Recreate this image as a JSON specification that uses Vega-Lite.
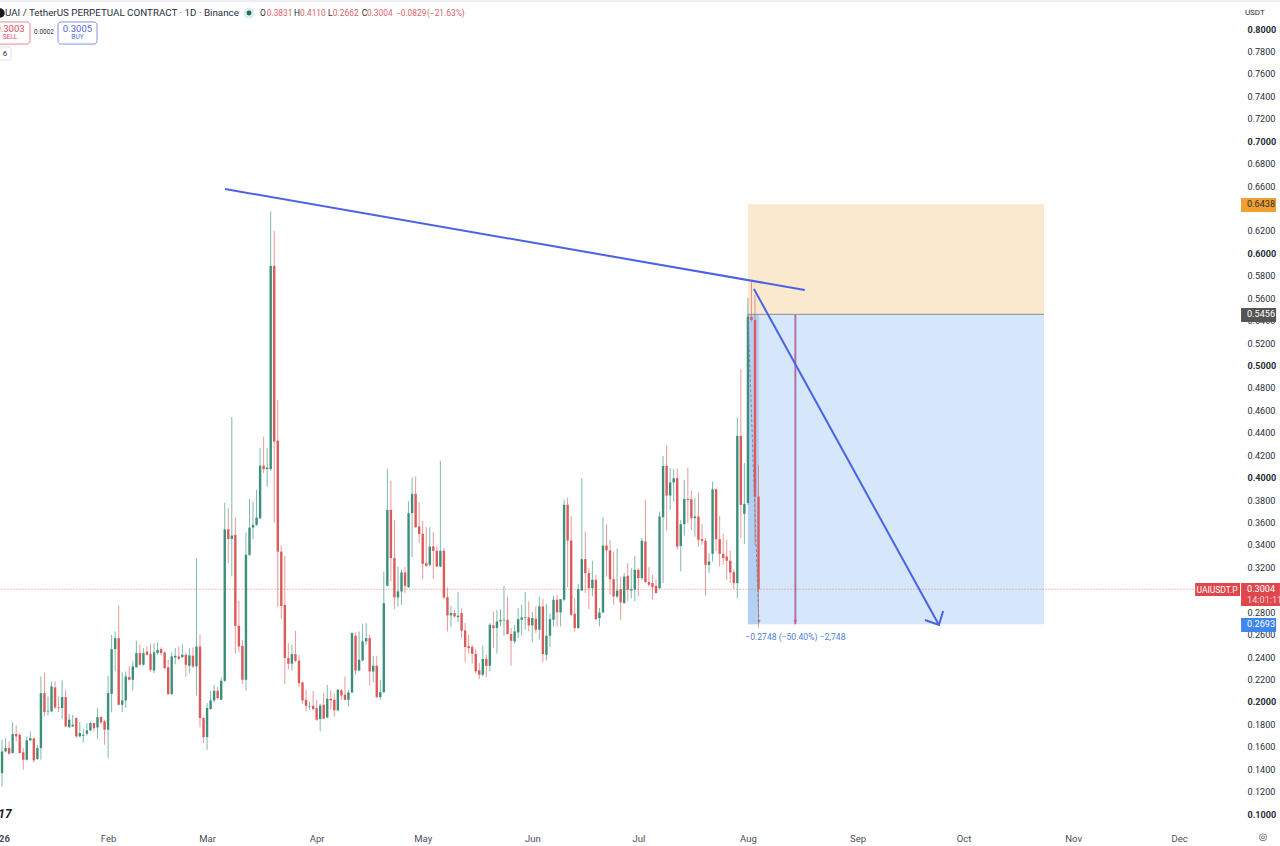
{"$schema":"https://vega.github.io/schema/vega-lite/v6.json","width":1241.5,"height":826,"autosize":{"type":"none"},"padding":{"left":-1.5,"top":0,"right":40,"bottom":20},"background":"#ffffff","view":{"stroke":null},
"config":{"font":"Roboto","axis":{"title":null,"grid":false,"domain":false,"ticks":false}},
"datasets":{"candles":[
{"t":"2026-01-01","h":0.1425,"o":0.1419,"c":0.1371,"l":0.1365},
{"t":"2026-01-02","h":0.1662,"o":0.1365,"c":0.1558,"l":0.1247},
{"t":"2026-01-03","h":0.1677,"o":0.1558,"c":0.1588,"l":0.1549},
{"t":"2026-01-04","h":0.1648,"o":0.1588,"c":0.1538,"l":0.1529},
{"t":"2026-01-05","h":0.1817,"o":0.1544,"c":0.1713,"l":0.1538},
{"t":"2026-01-06","h":0.179,"o":0.1713,"c":0.1692,"l":0.1648},
{"t":"2026-01-07","h":0.1722,"o":0.1707,"c":0.1544,"l":0.1538},
{"t":"2026-01-08","h":0.1588,"o":0.155,"c":0.1484,"l":0.1395},
{"t":"2026-01-09","h":0.1692,"o":0.1484,"c":0.1657,"l":0.1478},
{"t":"2026-01-10","h":0.1737,"o":0.1657,"c":0.1677,"l":0.1648},
{"t":"2026-01-11","h":0.1683,"o":0.1674,"c":0.1478,"l":0.146},
{"t":"2026-01-12","h":0.1618,"o":0.149,"c":0.1588,"l":0.1484},
{"t":"2026-01-13","h":0.2227,"o":0.1588,"c":0.2078,"l":0.1484},
{"t":"2026-01-14","h":0.2262,"o":0.2078,"c":0.1909,"l":0.187},
{"t":"2026-01-15","h":0.2048,"o":0.1915,"c":0.1921,"l":0.1879},
{"t":"2026-01-16","h":0.2182,"o":0.1915,"c":0.2138,"l":0.1909},
{"t":"2026-01-17","h":0.2182,"o":0.2129,"c":0.1951,"l":0.1936},
{"t":"2026-01-18","h":0.2048,"o":0.1951,"c":0.1945,"l":0.1909},
{"t":"2026-01-19","h":0.2191,"o":0.1945,"c":0.2043,"l":0.1847},
{"t":"2026-01-20","h":0.2108,"o":0.2043,"c":0.1781,"l":0.1775},
{"t":"2026-01-21","h":0.1891,"o":0.1775,"c":0.1841,"l":0.1766},
{"t":"2026-01-22","h":0.1885,"o":0.1781,"c":0.1796,"l":0.1775},
{"t":"2026-01-23","h":0.1861,"o":0.1855,"c":0.1692,"l":0.1677},
{"t":"2026-01-24","h":0.182,"o":0.1692,"c":0.1722,"l":0.1686},
{"t":"2026-01-25","h":0.1757,"o":0.1698,"c":0.1707,"l":0.1639},
{"t":"2026-01-26","h":0.1811,"o":0.1716,"c":0.1746,"l":0.1698},
{"t":"2026-01-27","h":0.1826,"o":0.1746,"c":0.1811,"l":0.1737},
{"t":"2026-01-28","h":0.1817,"o":0.1811,"c":0.1766,"l":0.1737},
{"t":"2026-01-29","h":0.1945,"o":0.1772,"c":0.1864,"l":0.1668},
{"t":"2026-01-30","h":0.1876,"o":0.1864,"c":0.1817,"l":0.1802},
{"t":"2026-01-31","h":0.1841,"o":0.1826,"c":0.1752,"l":0.1618},
{"t":"2026-02-01","h":0.2233,"o":0.1752,"c":0.2078,"l":0.1499},
{"t":"2026-02-02","h":0.2598,"o":0.2072,"c":0.247,"l":0.1906},
{"t":"2026-02-03","h":0.2628,"o":0.247,"c":0.2568,"l":0.2271},
{"t":"2026-02-04","h":0.2859,"o":0.2568,"c":0.1974,"l":0.1968},
{"t":"2026-02-05","h":0.2262,"o":0.1974,"c":0.2013,"l":0.1909},
{"t":"2026-02-06","h":0.2271,"o":0.2013,"c":0.2227,"l":0.1945},
{"t":"2026-02-07","h":0.2316,"o":0.2221,"c":0.2197,"l":0.2191},
{"t":"2026-02-08","h":0.236,"o":0.2197,"c":0.2316,"l":0.2102},
{"t":"2026-02-09","h":0.2547,"o":0.231,"c":0.2435,"l":0.2301},
{"t":"2026-02-10","h":0.2515,"o":0.2435,"c":0.2331,"l":0.2325},
{"t":"2026-02-11","h":0.2479,"o":0.2331,"c":0.2435,"l":0.2322},
{"t":"2026-02-12","h":0.2494,"o":0.2449,"c":0.242,"l":0.2414},
{"t":"2026-02-13","h":0.2518,"o":0.2429,"c":0.2286,"l":0.2271},
{"t":"2026-02-14","h":0.2524,"o":0.228,"c":0.2441,"l":0.2256},
{"t":"2026-02-15","h":0.2533,"o":0.2435,"c":0.2464,"l":0.242},
{"t":"2026-02-16","h":0.2485,"o":0.247,"c":0.2435,"l":0.2414},
{"t":"2026-02-17","h":0.2449,"o":0.2441,"c":0.2301,"l":0.2292},
{"t":"2026-02-18","h":0.2375,"o":0.2307,"c":0.2069,"l":0.2063},
{"t":"2026-02-19","h":0.2441,"o":0.2069,"c":0.2405,"l":0.2063},
{"t":"2026-02-20","h":0.2479,"o":0.2396,"c":0.2411,"l":0.2337},
{"t":"2026-02-21","h":0.2494,"o":0.2405,"c":0.2384,"l":0.2375},
{"t":"2026-02-22","h":0.2515,"o":0.2399,"c":0.242,"l":0.239},
{"t":"2026-02-23","h":0.2441,"o":0.242,"c":0.2331,"l":0.2221},
{"t":"2026-02-24","h":0.2479,"o":0.2322,"c":0.2414,"l":0.2256},
{"t":"2026-02-25","h":0.2485,"o":0.2411,"c":0.2316,"l":0.2301},
{"t":"2026-02-26","h":0.3281,"o":0.2316,"c":0.2494,"l":0.2057},
{"t":"2026-02-27","h":0.2598,"o":0.2494,"c":0.1855,"l":0.1772},
{"t":"2026-02-28","h":0.1864,"o":0.1855,"c":0.1686,"l":0.1633},
{"t":"2026-03-01","h":0.1989,"o":0.1686,"c":0.1945,"l":0.1573},
{"t":"2026-03-02","h":0.2099,"o":0.1936,"c":0.2013,"l":0.193},
{"t":"2026-03-03","h":0.2152,"o":0.2013,"c":0.2099,"l":0.1995},
{"t":"2026-03-04","h":0.2132,"o":0.2099,"c":0.2034,"l":0.2019},
{"t":"2026-03-05","h":0.2218,"o":0.2019,"c":0.2188,"l":0.2013},
{"t":"2026-03-06","h":0.3777,"o":0.2188,"c":0.3539,"l":0.2176},
{"t":"2026-03-07","h":0.3727,"o":0.3539,"c":0.3453,"l":0.3236},
{"t":"2026-03-08","h":0.4541,"o":0.3453,"c":0.3483,"l":0.3118},
{"t":"2026-03-09","h":0.3643,"o":0.3489,"c":0.2678,"l":0.2429},
{"t":"2026-03-10","h":0.2904,"o":0.2678,"c":0.2494,"l":0.2441},
{"t":"2026-03-11","h":0.2553,"o":0.25,"c":0.2197,"l":0.2161},
{"t":"2026-03-12","h":0.351,"o":0.2197,"c":0.3311,"l":0.2102},
{"t":"2026-03-13","h":0.381,"o":0.3311,"c":0.3554,"l":0.3302},
{"t":"2026-03-14","h":0.3786,"o":0.3554,"c":0.3578,"l":0.345},
{"t":"2026-03-15","h":0.389,"o":0.3578,"c":0.3643,"l":0.357},
{"t":"2026-03-16","h":0.4267,"o":0.3637,"c":0.4107,"l":0.3629},
{"t":"2026-03-17","h":0.4365,"o":0.4107,"c":0.4075,"l":0.4039},
{"t":"2026-03-18","h":0.4265,"o":0.4075,"c":0.4089,"l":0.3917},
{"t":"2026-03-19","h":0.6373,"o":0.4075,"c":0.5888,"l":0.406},
{"t":"2026-03-20","h":0.62,"o":0.5888,"c":0.4321,"l":0.3596},
{"t":"2026-03-21","h":0.4693,"o":0.433,"c":0.334,"l":0.2846},
{"t":"2026-03-22","h":0.3393,"o":0.334,"c":0.2855,"l":0.2739},
{"t":"2026-03-23","h":0.3301,"o":0.2864,"c":0.2392,"l":0.216},
{"t":"2026-03-24","h":0.2524,"o":0.239,"c":0.234,"l":0.2286},
{"t":"2026-03-25","h":0.2509,"o":0.234,"c":0.2426,"l":0.228},
{"t":"2026-03-26","h":0.2634,"o":0.2426,"c":0.2366,"l":0.2351},
{"t":"2026-03-27","h":0.242,"o":0.2369,"c":0.2167,"l":0.2132},
{"t":"2026-03-28","h":0.2182,"o":0.2173,"c":0.2013,"l":0.1983},
{"t":"2026-03-29","h":0.2108,"o":0.2019,"c":0.1965,"l":0.1915},
{"t":"2026-03-30","h":0.2004,"o":0.1959,"c":0.1965,"l":0.193},
{"t":"2026-03-31","h":0.2099,"o":0.1965,"c":0.1936,"l":0.1924},
{"t":"2026-04-01","h":0.2019,"o":0.1945,"c":0.1841,"l":0.1832},
{"t":"2026-04-02","h":0.1983,"o":0.1847,"c":0.1968,"l":0.1737},
{"t":"2026-04-03","h":0.2078,"o":0.1974,"c":0.1852,"l":0.1847},
{"t":"2026-04-04","h":0.2152,"o":0.1861,"c":0.2028,"l":0.1855},
{"t":"2026-04-05","h":0.2102,"o":0.2028,"c":0.2013,"l":0.193},
{"t":"2026-04-06","h":0.2078,"o":0.2019,"c":0.1924,"l":0.187},
{"t":"2026-04-07","h":0.2114,"o":0.1924,"c":0.2108,"l":0.1915},
{"t":"2026-04-08","h":0.2114,"o":0.2102,"c":0.2057,"l":0.2019},
{"t":"2026-04-09","h":0.2227,"o":0.2063,"c":0.2019,"l":0.2013},
{"t":"2026-04-10","h":0.2108,"o":0.2019,"c":0.2084,"l":0.1959},
{"t":"2026-04-11","h":0.2619,"o":0.2084,"c":0.2613,"l":0.2078},
{"t":"2026-04-12","h":0.2619,"o":0.2589,"c":0.228,"l":0.2242},
{"t":"2026-04-13","h":0.2628,"o":0.228,"c":0.2375,"l":0.2274},
{"t":"2026-04-14","h":0.2696,"o":0.2369,"c":0.2539,"l":0.236},
{"t":"2026-04-15","h":0.2702,"o":0.2539,"c":0.2568,"l":0.2509},
{"t":"2026-04-16","h":0.2598,"o":0.2568,"c":0.2271,"l":0.2144},
{"t":"2026-04-17","h":0.2411,"o":0.2271,"c":0.2322,"l":0.2173},
{"t":"2026-04-18","h":0.2411,"o":0.2322,"c":0.2043,"l":0.2034},
{"t":"2026-04-19","h":0.2197,"o":0.2043,"c":0.2087,"l":0.2019},
{"t":"2026-04-20","h":0.3162,"o":0.2087,"c":0.288,"l":0.2078},
{"t":"2026-04-21","h":0.4078,"o":0.3035,"c":0.3712,"l":0.303},
{"t":"2026-04-22","h":0.3974,"o":0.3712,"c":0.3282,"l":0.3074},
{"t":"2026-04-23","h":0.3623,"o":0.3282,"c":0.2931,"l":0.2827},
{"t":"2026-04-24","h":0.3207,"o":0.2931,"c":0.2985,"l":0.2851},
{"t":"2026-04-25","h":0.3178,"o":0.2985,"c":0.3154,"l":0.2866},
{"t":"2026-04-26","h":0.3202,"o":0.3154,"c":0.3035,"l":0.297},
{"t":"2026-04-27","h":0.3787,"o":0.3023,"c":0.3683,"l":0.3015},
{"t":"2026-04-28","h":0.4003,"o":0.3683,"c":0.3855,"l":0.3291},
{"t":"2026-04-29","h":0.4009,"o":0.3855,"c":0.3558,"l":0.3549},
{"t":"2026-04-30","h":0.3781,"o":0.3564,"c":0.3496,"l":0.3415},
{"t":"2026-05-01","h":0.3614,"o":0.3499,"c":0.3231,"l":0.3095},
{"t":"2026-05-02","h":0.3558,"o":0.3237,"c":0.3213,"l":0.3202},
{"t":"2026-05-03","h":0.3558,"o":0.3222,"c":0.3386,"l":0.3207},
{"t":"2026-05-04","h":0.3513,"o":0.3386,"c":0.3347,"l":0.3098},
{"t":"2026-05-05","h":0.3386,"o":0.3347,"c":0.3207,"l":0.3202},
{"t":"2026-05-06","h":0.4149,"o":0.3207,"c":0.3347,"l":0.3199},
{"t":"2026-05-07","h":0.3371,"o":0.3347,"c":0.2931,"l":0.2916},
{"t":"2026-05-08","h":0.302,"o":0.2934,"c":0.2771,"l":0.2628},
{"t":"2026-05-09","h":0.2857,"o":0.2771,"c":0.2792,"l":0.2667},
{"t":"2026-05-10","h":0.2821,"o":0.2792,"c":0.2762,"l":0.2753},
{"t":"2026-05-11","h":0.2979,"o":0.2756,"c":0.2768,"l":0.2709},
{"t":"2026-05-12","h":0.2836,"o":0.2792,"c":0.2634,"l":0.2569},
{"t":"2026-05-13","h":0.2703,"o":0.2637,"c":0.2489,"l":0.2355},
{"t":"2026-05-14","h":0.2599,"o":0.2495,"c":0.248,"l":0.2429},
{"t":"2026-05-15","h":0.251,"o":0.2489,"c":0.2429,"l":0.234},
{"t":"2026-05-16","h":0.2471,"o":0.2429,"c":0.2272,"l":0.2257},
{"t":"2026-05-17","h":0.2346,"o":0.2281,"c":0.2242,"l":0.2204},
{"t":"2026-05-18","h":0.2501,"o":0.2242,"c":0.2382,"l":0.2227},
{"t":"2026-05-19","h":0.242,"o":0.2382,"c":0.2322,"l":0.2221},
{"t":"2026-05-20","h":0.2703,"o":0.2322,"c":0.2688,"l":0.2272},
{"t":"2026-05-21","h":0.2807,"o":0.2682,"c":0.2658,"l":0.248},
{"t":"2026-05-22","h":0.2821,"o":0.2658,"c":0.2717,"l":0.2429},
{"t":"2026-05-23","h":0.2827,"o":0.2717,"c":0.2732,"l":0.2673},
{"t":"2026-05-24","h":0.3035,"o":0.2726,"c":0.2732,"l":0.259},
{"t":"2026-05-25","h":0.294,"o":0.2732,"c":0.2605,"l":0.2599},
{"t":"2026-05-26","h":0.2658,"o":0.2605,"c":0.2545,"l":0.2322},
{"t":"2026-05-27","h":0.2688,"o":0.2539,"c":0.2628,"l":0.2518},
{"t":"2026-05-28","h":0.2836,"o":0.2619,"c":0.2738,"l":0.2569},
{"t":"2026-05-29","h":0.2866,"o":0.2732,"c":0.2753,"l":0.259},
{"t":"2026-05-30","h":0.2979,"o":0.2747,"c":0.2753,"l":0.2643},
{"t":"2026-05-31","h":0.2896,"o":0.2753,"c":0.2682,"l":0.2628},
{"t":"2026-06-01","h":0.2801,"o":0.2682,"c":0.2747,"l":0.253},
{"t":"2026-06-02","h":0.2851,"o":0.2741,"c":0.2643,"l":0.2614},
{"t":"2026-06-03","h":0.294,"o":0.2643,"c":0.2851,"l":0.2554},
{"t":"2026-06-04","h":0.2916,"o":0.2851,"c":0.2426,"l":0.2355},
{"t":"2026-06-05","h":0.2875,"o":0.242,"c":0.259,"l":0.237},
{"t":"2026-06-06","h":0.2786,"o":0.259,"c":0.2738,"l":0.2489},
{"t":"2026-06-07","h":0.2946,"o":0.2732,"c":0.2911,"l":0.2673},
{"t":"2026-06-08","h":0.2955,"o":0.2911,"c":0.2798,"l":0.2673},
{"t":"2026-06-09","h":0.2916,"o":0.2798,"c":0.2916,"l":0.2673},
{"t":"2026-06-10","h":0.3802,"o":0.2911,"c":0.3757,"l":0.2896},
{"t":"2026-06-11","h":0.3822,"o":0.3757,"c":0.3439,"l":0.3023},
{"t":"2026-06-12","h":0.3659,"o":0.3439,"c":0.2777,"l":0.2762},
{"t":"2026-06-13","h":0.2925,"o":0.2786,"c":0.2658,"l":0.2628},
{"t":"2026-06-14","h":0.305,"o":0.2658,"c":0.3005,"l":0.2652},
{"t":"2026-06-15","h":0.3994,"o":0.2993,"c":0.3273,"l":0.2988},
{"t":"2026-06-16","h":0.3519,"o":0.3273,"c":0.3148,"l":0.297},
{"t":"2026-06-17","h":0.3192,"o":0.3148,"c":0.3014,"l":0.2827},
{"t":"2026-06-18","h":0.3258,"o":0.3014,"c":0.3089,"l":0.294},
{"t":"2026-06-19","h":0.3133,"o":0.3089,"c":0.2738,"l":0.2726},
{"t":"2026-06-20","h":0.2836,"o":0.2747,"c":0.2797,"l":0.2673},
{"t":"2026-06-21","h":0.3647,"o":0.2797,"c":0.3394,"l":0.2792},
{"t":"2026-06-22","h":0.3584,"o":0.3394,"c":0.335,"l":0.3118},
{"t":"2026-06-23","h":0.3445,"o":0.335,"c":0.3094,"l":0.2955},
{"t":"2026-06-24","h":0.3341,"o":0.3094,"c":0.294,"l":0.2866},
{"t":"2026-06-25","h":0.3365,"o":0.294,"c":0.2993,"l":0.2925},
{"t":"2026-06-26","h":0.3118,"o":0.3005,"c":0.2887,"l":0.2732},
{"t":"2026-06-27","h":0.3148,"o":0.2881,"c":0.3118,"l":0.2875},
{"t":"2026-06-28","h":0.3237,"o":0.3124,"c":0.3,"l":0.2896},
{"t":"2026-06-29","h":0.3192,"o":0.2993,"c":0.3005,"l":0.2925},
{"t":"2026-06-30","h":0.3302,"o":0.3,"c":0.3178,"l":0.2896},
{"t":"2026-07-01","h":0.3192,"o":0.3178,"c":0.3103,"l":0.294},
{"t":"2026-07-02","h":0.346,"o":0.3103,"c":0.3436,"l":0.3089},
{"t":"2026-07-03","h":0.3801,"o":0.343,"c":0.3068,"l":0.3059},
{"t":"2026-07-04","h":0.3201,"o":0.3068,"c":0.3044,"l":0.3029},
{"t":"2026-07-05","h":0.3133,"o":0.3059,"c":0.3023,"l":0.291},
{"t":"2026-07-06","h":0.3094,"o":0.3035,"c":0.297,"l":0.297},
{"t":"2026-07-07","h":0.3697,"o":0.3014,"c":0.3653,"l":0.3005},
{"t":"2026-07-08","h":0.4193,"o":0.3647,"c":0.4104,"l":0.3059},
{"t":"2026-07-09","h":0.4291,"o":0.4104,"c":0.384,"l":0.3525},
{"t":"2026-07-10","h":0.4083,"o":0.384,"c":0.3956,"l":0.3712},
{"t":"2026-07-11","h":0.4075,"o":0.3956,"c":0.3994,"l":0.3786},
{"t":"2026-07-12","h":0.4083,"o":0.3994,"c":0.3385,"l":0.3356},
{"t":"2026-07-13","h":0.3623,"o":0.3391,"c":0.3584,"l":0.3163},
{"t":"2026-07-14","h":0.398,"o":0.3584,"c":0.381,"l":0.3481},
{"t":"2026-07-15","h":0.4089,"o":0.381,"c":0.3801,"l":0.3593},
{"t":"2026-07-16","h":0.3884,"o":0.3807,"c":0.3638,"l":0.3534},
{"t":"2026-07-17","h":0.3816,"o":0.3638,"c":0.3653,"l":0.3475},
{"t":"2026-07-18","h":0.3867,"o":0.3653,"c":0.3445,"l":0.3385},
{"t":"2026-07-19","h":0.3587,"o":0.3451,"c":0.3436,"l":0.34},
{"t":"2026-07-20","h":0.346,"o":0.3436,"c":0.3222,"l":0.2949},
{"t":"2026-07-21","h":0.3326,"o":0.3222,"c":0.3252,"l":0.3148},
{"t":"2026-07-22","h":0.3965,"o":0.332,"c":0.3896,"l":0.3252},
{"t":"2026-07-23","h":0.3905,"o":0.3896,"c":0.3451,"l":0.3341},
{"t":"2026-07-24","h":0.3659,"o":0.3451,"c":0.332,"l":0.3207},
{"t":"2026-07-25","h":0.3498,"o":0.332,"c":0.3282,"l":0.3222},
{"t":"2026-07-26","h":0.3445,"o":0.3296,"c":0.3258,"l":0.3089},
{"t":"2026-07-27","h":0.335,"o":0.3258,"c":0.3154,"l":0.3059},
{"t":"2026-07-28","h":0.3178,"o":0.3157,"c":0.3059,"l":0.3005},
{"t":"2026-07-29","h":0.4535,"o":0.3059,"c":0.4372,"l":0.2925},
{"t":"2026-07-30","h":0.4967,"o":0.4372,"c":0.3757,"l":0.346},
{"t":"2026-07-31","h":0.4131,"o":0.3677,"c":0.3766,"l":0.3409},
{"t":"2026-08-01","h":0.5603,"o":0.3774,"c":0.5433,"l":0.3756},
{"t":"2026-08-02","h":0.5763,"o":0.5433,"c":0.5406,"l":0.5389},
{"t":"2026-08-03","h":0.563,"o":0.5406,"c":0.3828,"l":0.3399},
{"t":"2026-08-04","h":0.411,"o":0.3831,"c":0.3004,"l":0.2662}
]},
"encoding":{
"x":{"field":"t","type":"temporal","title":null,"scale":{"type":"utc","domain":[1767225600000,1797569280000],"nice":false},"axis":{"orient":"bottom","tickCount":{"interval":"month","step":1},"labelExpr":"utcmonth(datum.value)==0 ? '2026' : utcFormat(datum.value,'%b')","labelFontSize":9.5,"labelColor":"#4a4e5a","labelPadding":7,"labelOverlap":false,"labelBound":false,"labelFlush":false,"labelFontWeight":{"condition":{"test":"utcmonth(datum.value)==0","value":"bold"},"value":"normal"}}},
"y":{"field":"p","type":"quantitative","title":null,"scale":{"domain":[0.0893,0.8259],"nice":false,"zero":false},"axis":{"orient":"right","values":[0.1,0.12,0.14,0.16,0.18,0.2,0.22,0.24,0.26,0.28,0.3,0.32,0.34,0.36,0.38,0.4,0.42,0.44,0.46,0.48,0.5,0.52,0.54,0.56,0.58,0.6,0.62,0.64,0.66,0.68,0.7,0.72,0.74,0.76,0.78,0.8],"format":".4f","labelFontSize":9.1,"labelColor":"#2a2e39","labelPadding":7,"labelOverlap":false,"labelBound":false,"labelFlush":false,"labelFontWeight":{"condition":{"test":"abs(datum.value*10-round(datum.value*10))<0.001","value":"bold"},"value":"normal"}}}
},
"layer":[
{"data":{"values":[{"t":"2025-12-31","t2":"2026-12-29T12:00:00Z","p":0.8272,"p2":0.8241}]},"mark":{"type":"rect","color":"#eceef1"},"encoding":{"x2":{"field":"t2"},"y2":{"field":"p2"}}},
{"data":{"values":[{"t":"2026-08-01","t2":"2026-10-23T18:00:00Z","p":0.6438,"p2":0.5456}]},"mark":{"type":"rect","color":"#fbe9cf"},"encoding":{"x2":{"field":"t2"},"y2":{"field":"p2"}}},
{"data":{"values":[{"t":"2026-08-01","t2":"2026-10-23T18:00:00Z","p":0.5456,"p2":0.2693}]},"mark":{"type":"rect","color":"#d7e7fb"},"encoding":{"x2":{"field":"t2"},"y2":{"field":"p2"}}},
{"data":{"values":[{"t":"2026-08-01","t2":"2026-08-04T03:00:00Z","p":0.5456,"p2":0.2693}]},"mark":{"type":"rect","color":"#b4d0f3"},"encoding":{"x2":{"field":"t2"},"y2":{"field":"p2"}}},
{"data":{"values":[{"t":"2026-01-01","t2":"2026-12-18T05:00:00Z","p":0.3004}]},"mark":{"type":"rule","color":"#e25c5c","strokeDash":[1,2],"opacity":0.8,"strokeWidth":1},"encoding":{"x2":{"field":"t2"}}},
{"data":{"name":"candles"},"mark":{"type":"rule","strokeWidth":1,"opacity":0.62},"encoding":{"y":{"field":"h","type":"quantitative"},"y2":{"field":"l"},"color":{"condition":{"test":"datum.c >= datum.o","value":"#2f8f78"},"value":"#dc5a5a"}}},
{"data":{"name":"candles"},"mark":{"type":"rule","strokeWidth":2.4},"encoding":{"y":{"field":"o","type":"quantitative"},"y2":{"field":"c"},"color":{"condition":{"test":"datum.c >= datum.o","value":"#3c8f7b"},"value":"#dc5a5a"}}},
{"data":{"values":[{"t":"2026-08-01","t2":"2026-10-23T18:00:00Z","p":0.5456}]},"mark":{"type":"rule","color":"#8c8c8c","strokeWidth":1},"encoding":{"x2":{"field":"t2"}}},
{"data":{"values":[{"t":"2026-08-14T10:00:00Z","p":0.5456,"p2":0.2693}]},"mark":{"type":"rule","color":"#b39ad8","strokeWidth":2.4},"encoding":{"y2":{"field":"p2"}}},
{"data":{"values":[{"t":"2026-08-14T10:00:00Z","p":0.5456,"p2":0.2693}]},"mark":{"type":"rule","color":"#c25a72","strokeWidth":0.8},"encoding":{"y2":{"field":"p2"}}},
{"data":{"values":[{"t":"2026-08-14T10:00:00Z","p":0.2715},{"t":"2026-08-04T03:00:00Z","p":0.2715}]},"mark":{"type":"point","shape":"triangle-down","filled":true,"size":14,"color":"#c25a72"}},
{"data":{"values":[{"t":"2026-08-01","p":0.5456},{"t":"2026-08-04T03:00:00Z","p":0.2693}]},"mark":{"type":"line","color":"#7f8794","strokeWidth":1,"strokeDash":[3,2]}},
{"data":{"values":[{"seg":"top","t":"2026-03-06T02:00:00Z","p":0.6573},{"seg":"top","t":"2026-08-17T02:00:00Z","p":0.5673},{"seg":"arrow","t":"2026-08-02T17:00:00Z","p":0.5682},{"seg":"arrow","t":"2026-09-24T01:00:00Z","p":0.2685},{"seg":"head","t":"2026-09-20T02:00:00Z","p":0.273},{"seg":"head","t":"2026-09-24T01:00:00Z","p":0.2685},{"seg":"head","t":"2026-09-25T05:00:00Z","p":0.281}]},"mark":{"type":"line","color":"#4a62e4","strokeWidth":2},"encoding":{"detail":{"field":"seg"}}},
{"data":{"values":[{"t":"2026-08-14T10:00:00Z","p":0.2578,"label":"−0.2748 (−50.40%) −2,748"}]},"mark":{"type":"text","color":"#4f7fdc","fontSize":8.6},"encoding":{"text":{"field":"label"}}},
{"data":{"values":[{"t":"2026-12-18T12:00:00Z","t2":"2026-12-28T10:00:00Z","p":0.6493,"p2":0.6368}]},"mark":{"type":"rect","color":"#f0a030"},"encoding":{"x2":{"field":"t2"},"y2":{"field":"p2"}}},
{"data":{"values":[{"t":"2026-12-18T12:00:00Z","t2":"2026-12-28T10:00:00Z","p":0.5512,"p2":0.5387}]},"mark":{"type":"rect","color":"#555555"},"encoding":{"x2":{"field":"t2"},"y2":{"field":"p2"}}},
{"data":{"values":[{"t":"2026-12-18T12:00:00Z","t2":"2026-12-28T10:00:00Z","p":0.2748,"p2":0.2623}]},"mark":{"type":"rect","color":"#3f87ec"},"encoding":{"x2":{"field":"t2"},"y2":{"field":"p2"}}},
{"data":{"values":[{"t":"2026-12-18T12:00:00Z","t2":"2026-12-29T12:00:00Z","p":0.306,"p2":0.2855},{"t":"2026-12-05T12:00:00Z","t2":"2026-12-18T05:00:00Z","p":0.306,"p2":0.2944}]},"mark":{"type":"rect","color":"#e0474c"},"encoding":{"x2":{"field":"t2"},"y2":{"field":"p2"}}},
{"data":{"values":[{"t":"2026-12-20T05:00:00Z","p":0.5456,"label":"0.5456"},{"t":"2026-12-20T05:00:00Z","p":0.3004,"label":"0.3004"},{"t":"2026-12-20T05:00:00Z","p":0.2693,"label":"0.2693"}]},"mark":{"type":"text","color":"#ffffff","fontSize":9.1,"align":"left"},"encoding":{"text":{"field":"label"}}},
{"data":{"values":[{"t":"2026-12-20T05:00:00Z","p":0.2908,"label":"14:01:11"}]},"mark":{"type":"text","color":"#f9d5d5","fontSize":9.1,"align":"left"},"encoding":{"text":{"field":"label"}}},
{"data":{"values":[{"t":"2026-12-20T05:00:00Z","p":0.6438,"label":"0.6438"}]},"mark":{"type":"text","color":"#2a2e39","fontSize":9.1,"align":"left"},"encoding":{"text":{"field":"label"}}},
{"data":{"values":[{"t":"2026-12-11T17:00:00Z","p":0.2998,"label":"UAIUSDT.P"}]},"mark":{"type":"text","color":"#ffffff","fontSize":8.5},"encoding":{"text":{"field":"label"}}},
{"data":{"values":[{"t":"2026-12-19T14:00:00Z","p":0.8143,"label":"USDT"}]},"mark":{"type":"text","color":"#2a2e39","fontSize":8,"align":"left"},"encoding":{"text":{"field":"label"}}},
{"data":{"values":[{"t":"2026-12-24T17:00:00Z","p":0.0795,"label":"◎"}]},"mark":{"type":"text","color":"#4a4e5a","fontSize":10,"font":"DejaVu Sans"},"encoding":{"text":{"field":"label"}}},
{"data":{"values":[{"t":"2026-01-02T20:00:00Z","p":0.1,"label":"17"}]},"mark":{"type":"text","color":"#131722","fontSize":12,"fontWeight":"bold","fontStyle":"italic"},"encoding":{"text":{"field":"label"}}},
{"data":{"values":[{"t":"2026-01-01T10:00:00Z","p":0.8143}]},"mark":{"type":"point","filled":true,"size":90,"color":"#131722","opacity":1}},
{"data":{"values":[{"t":"2026-03-12T21:00:00Z","p":0.8143}]},"mark":{"type":"point","filled":true,"size":120,"color":"#d9efe9","opacity":1}},
{"data":{"values":[{"t":"2026-03-12T21:00:00Z","p":0.8143}]},"mark":{"type":"point","filled":true,"size":24,"color":"#1f6f5f","opacity":1}},
{"data":{"values":[{"t":"2026-01-02T20:00:00Z","p":0.8143,"label":"UAI / TetherUS PERPETUAL CONTRACT · 1D · Binance"}]},"mark":{"type":"text","color":"#2a2e39","fontSize":9.8,"align":"left"},"encoding":{"text":{"field":"label"}}},
{"data":{"values":[{"t":"2026-03-16T00:00:00Z","p":0.8143,"label":"O"},{"t":"2026-03-25T14:00:00Z","p":0.8143,"label":"H"},{"t":"2026-04-04T05:00:00Z","p":0.8143,"label":"L"},{"t":"2026-04-13T19:00:00Z","p":0.8143,"label":"C"}]},"mark":{"type":"text","color":"#2a2e39","fontSize":8.4,"align":"left"},"encoding":{"text":{"field":"label"}}},
{"data":{"values":[{"t":"2026-03-17T21:00:00Z","p":0.8143,"label":"0.3831"},{"t":"2026-03-27T07:00:00Z","p":0.8143,"label":"0.4110"},{"t":"2026-04-05T14:00:00Z","p":0.8143,"label":"0.2662"},{"t":"2026-04-15T05:00:00Z","p":0.8143,"label":"0.3004"},{"t":"2026-04-23T10:00:00Z","p":0.8143,"label":"−0.0829"},{"t":"2026-05-02T05:00:00Z","p":0.8143,"label":"(−21.63%)"}]},"mark":{"type":"text","color":"#e0616a","fontSize":8.4,"align":"left"},"encoding":{"text":{"field":"label"}}},
{"data":{"values":[{"t":"2025-12-31T00:00:00Z","t2":"2026-01-09T22:00:00Z","p":0.8063,"p2":0.7866}]},"mark":{"type":"rect","fill":"#ffffff","stroke":"#e58a8f","strokeWidth":1,"cornerRadius":3},"encoding":{"x2":{"field":"t2"},"y2":{"field":"p2"}}},
{"data":{"values":[{"t":"2026-01-17T20:00:00Z","t2":"2026-01-28T21:00:00Z","p":0.8063,"p2":0.7866}]},"mark":{"type":"rect","fill":"#ffffff","stroke":"#7f92e6","strokeWidth":1,"cornerRadius":3},"encoding":{"x2":{"field":"t2"},"y2":{"field":"p2"}}},
{"data":{"values":[{"t":"2025-12-31T14:00:00Z","t2":"2026-01-04T13:00:00Z","p":0.784,"p2":0.7724}]},"mark":{"type":"rect","fill":"#ffffff","stroke":"#e0e3eb","strokeWidth":1,"cornerRadius":2},"encoding":{"x2":{"field":"t2"},"y2":{"field":"p2"}}},
{"data":{"values":[{"t":"2026-01-04T06:00:00Z","p":0.8,"label":"0.3003"}]},"mark":{"type":"text","color":"#d9505a","fontSize":9.5},"encoding":{"text":{"field":"label"}}},
{"data":{"values":[{"t":"2026-01-04T06:00:00Z","p":0.7929,"label":"SELL"}]},"mark":{"type":"text","color":"#d9505a","fontSize":6.5},"encoding":{"text":{"field":"label"}}},
{"data":{"values":[{"t":"2026-01-23T08:00:00Z","p":0.8,"label":"0.3005"}]},"mark":{"type":"text","color":"#5468d8","fontSize":9.5},"encoding":{"text":{"field":"label"}}},
{"data":{"values":[{"t":"2026-01-23T08:00:00Z","p":0.7929,"label":"BUY"}]},"mark":{"type":"text","color":"#5468d8","fontSize":6.5},"encoding":{"text":{"field":"label"}}},
{"data":{"values":[{"t":"2026-01-13T21:00:00Z","p":0.7973,"label":"0.0002"}]},"mark":{"type":"text","color":"#2a2e39","fontSize":6.5},"encoding":{"text":{"field":"label"}}},
{"data":{"values":[{"t":"2026-01-02T20:00:00Z","p":0.7777,"label":"6"}]},"mark":{"type":"text","color":"#2a2e39","fontSize":8},"encoding":{"text":{"field":"label"}}}
]}
